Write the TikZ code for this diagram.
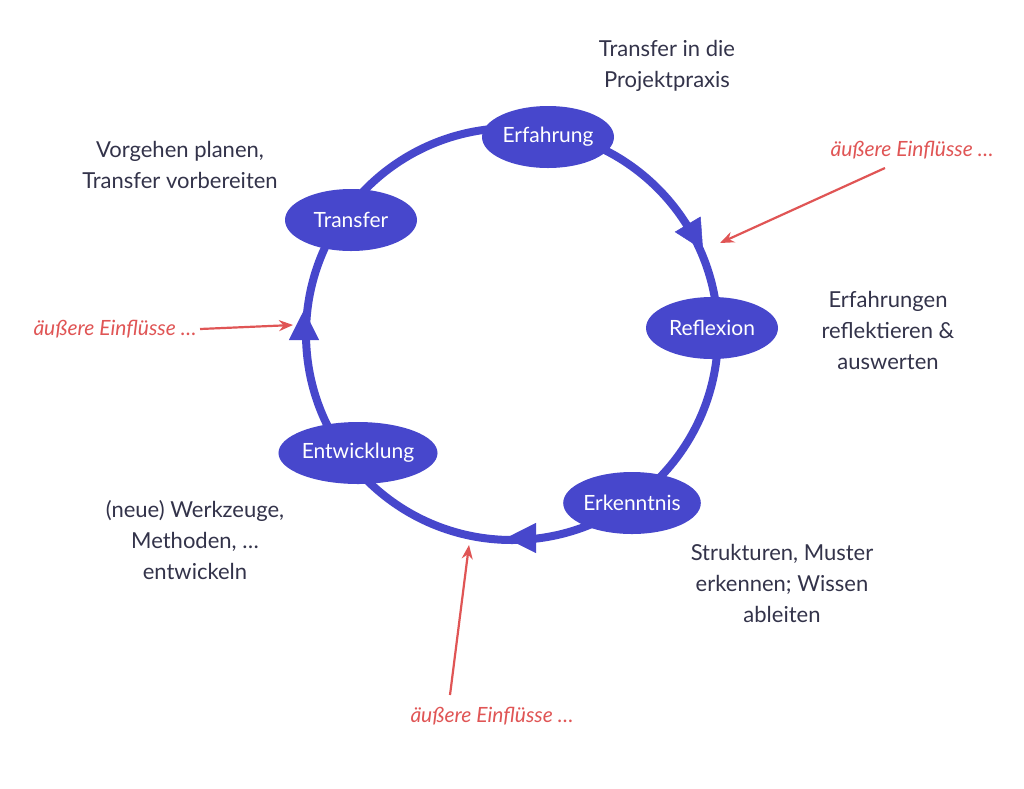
\documentclass[tikz,border=0pt]{standalone}
\usepackage{fontspec}
\setmainfont{Lato}
\usetikzlibrary{shapes.geometric,arrows.meta}
\definecolor{cyc}{HTML}{4747CC}
\definecolor{txt}{HTML}{33334A}
\definecolor{red1}{HTML}{E05555}
\tikzset{
 phase/.style={ellipse,fill=cyc,text=white,minimum width=132pt,minimum height=62pt,inner sep=0pt,font=\fontsize{21}{22}\selectfont},
 lab/.style={text=txt,align=center,font=\fontsize{22}{31}\selectfont},
 ext/.style={text=red1,font=\itshape\fontsize{21}{22}\selectfont},
 extarr/.style={red1,line width=2.2pt,-{Stealth[length=14pt,width=11pt]}},
 cycarr/.style={cyc,line width=0.5pt,-{Triangle[length=30pt,width=30pt]}}
}
\begin{document}
\begin{tikzpicture}[x=1pt,y=-1pt]
\useasboundingbox[fill=white] (0,0) rectangle (1024,788);
\draw[cyc,line width=8pt] (512,334) circle[radius=206];
\coordinate (a1s) at (684,218); \coordinate (a1e) at (703,250);
\coordinate (a2s) at (545,538); \coordinate (a2e) at (506,538);
\coordinate (a3s) at (304,350); \coordinate (a3e) at (304,310);
\draw[cycarr] (a1s) -- (a1e);
\draw[cycarr] (a2s) -- (a2e);
\draw[cycarr] (a3s) -- (a3e);
\node[phase] (erf) at (548,137) {Erfahrung};
\node[phase] (ref) at (712,328) {Reflexion};
\node[phase] (erk) at (632,503) {Erkenntnis};
\node[phase] (ent) at (358,453) {Entwicklung};
\node[phase] (tra) at (351,220) {Transfer};
\node[lab] (l1) at (667,66) {Transfer in die\\Projektpraxis};
\node[lab] (l2) at (180,165) {Vorgehen planen,\\Transfer vorbereiten};
\node[lab] (l3) at (888,330) {Erfahrungen\\reflektieren \&\\auswerten};
\node[lab] (l4) at (782,583) {Strukturen, Muster\\erkennen; Wissen\\ableiten};
\node[lab] (l5) at (195,540) {(neue) Werkzeuge,\\Methoden, \dots\\entwickeln};
\node[ext] (e1) at (912,150) {äußere Einflüsse \dots};
\node[ext] (e2) at (115,329) {äußere Einflüsse \dots};
\node[ext] (e3) at (492,716) {äußere Einflüsse \dots};
\coordinate (t1) at (720,243);
\coordinate (t2) at (293,325);
\coordinate (t3) at (469,545);
\draw[extarr] (885,168) -- (t1);
\draw[extarr] (e2.east) -- (t2);
\draw[extarr] (450,695) -- (t3);
\end{tikzpicture}
\end{document}
